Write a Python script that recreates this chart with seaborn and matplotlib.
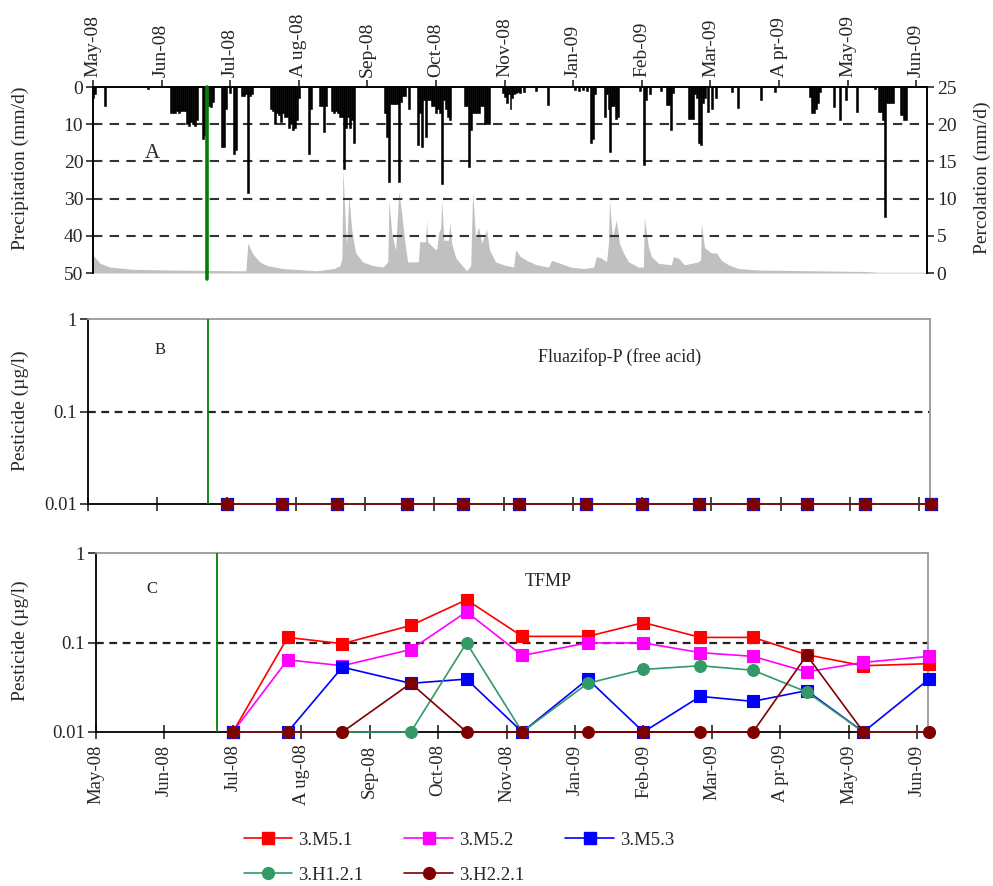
import numpy as np
import pandas as pd
import matplotlib
matplotlib.use("Agg")
import matplotlib.pyplot as plt
import seaborn as sns
from matplotlib.lines import Line2D

# ---------------- data ----------------
month_labels = ['May-08', 'Jun-08', 'Jul-08', 'A ug-08', 'Sep-08', 'Oct-08', 'Nov-08',
                'Jan-09', 'Feb-09', 'Mar-09', 'A pr-09', 'May-09', 'Jun-09']

# daily precipitation (day since 1 May 2008, mm/d)
rain_day = [0, 1, 6, 28,
            40, 41, 42, 43, 44, 45, 46, 47, 48, 49, 50, 51, 52, 53, 56, 57, 59, 60, 61,
            66, 67, 68, 70, 72, 73, 76, 77, 78, 79, 80, 81,
            91, 92, 93, 94, 95, 96, 97, 98, 99, 100, 101, 102, 103, 104, 105, 110, 111,
            116, 117, 118, 119, 122, 123, 124, 125, 126, 127, 128, 129, 130, 131, 132, 133,
            149, 150, 151, 152, 153, 154, 155, 156, 157, 158, 159, 161, 166,
            167, 168, 169, 170, 171, 172, 173, 174, 175, 176, 177, 178, 179, 180, 181, 182,
            190, 191, 192, 193, 194, 195, 196, 197, 198, 199, 200, 201, 202,
            209, 210, 211, 212, 213, 214, 215, 216, 217, 218, 220, 226, 232, 246, 248, 250, 252,
            254, 255, 256, 261, 262, 263, 264, 265, 266, 267, 268,
            279, 281, 282, 284, 290, 293, 294, 295, 296,
            304, 305, 306, 307, 308, 309, 310, 311, 312, 314, 316, 318, 326, 329, 341, 348,
            366, 367, 368, 369, 370, 371, 378, 381, 384, 390, 399,
            401, 402, 403, 404, 405, 406, 407, 408, 412, 413, 414, 415]
rain_mm = [3, 2, 5, 0.5,
           7, 7, 7, 6.5, 7, 6.5, 6.5, 6.5, 10, 10.5, 9.5, 10, 10.5, 9, 14, 13, 5, 5.5, 4,
           16, 16, 6, 1.7, 18, 17, 2.5, 2.5, 2, 28.5, 2.5, 2,
           6, 6.5, 10, 7, 7.5, 9.5, 7, 8, 8, 11, 10, 11.5, 11, 9, 3, 18, 6,
           5, 5, 12, 5, 6.5, 7, 6.5, 7, 8, 8, 22, 11, 8, 11, 9, 15,
           7, 13.5, 25.5, 4.5, 4.5, 4.5, 4.5, 25.5, 4, 2.5, 2.5, 6, 15.6,
           7, 16, 3.5, 13.5, 3.5, 3.5, 5, 5, 7, 6, 7, 26, 3.5, 6, 8, 9,
           5, 5, 21.5, 11.5, 7, 7, 7, 7, 5, 5, 10, 10, 10,
           1.7, 2.7, 4.4, 2, 6, 3, 2, 1.7, 1.3, 1.5, 1.3, 1, 4.8, 0.8, 1, 0.8, 1,
           15, 14, 2, 8, 2, 6, 17.5, 5, 5, 8.5, 8,
           1, 21, 3.5, 2, 1, 4.8, 4.8, 11.5, 1.7,
           8.5, 8.5, 8.5, 2, 3, 15, 15.6, 4.4, 3, 6.7, 6, 3, 1.3, 5.7, 3.5, 1.3,
           2.7, 7, 7, 6, 4.4, 1.3, 5.3, 9, 3.5, 6.7, 0.5,
           6.7, 6.7, 9, 35, 4.4, 4.4, 4.4, 4.4, 7.5, 7.5, 9, 9]

# percolation (day, mm/d)
perc_day = [0, 3.6, 8.7, 20, 39, 71, 78, 79, 81.5, 85, 88.7, 97, 114, 123, 126, 127, 127.5,
            129, 129.5, 130.5, 132, 134, 137.6, 142.7, 148, 150.4, 151, 152.4, 154.4, 156,
            157.5, 159, 160.5, 166, 166.7, 169.7, 170.2, 170.7, 173.3, 175.3, 176.4, 177.4,
            177.9, 179, 181.4, 182, 183, 185, 188, 190.6, 192.7, 193.7, 195.2, 196.7, 198.3,
            200.8, 202.3, 205.4, 209.5, 214.6, 215.6, 218.1, 221.2, 226.3, 232.4, 234, 238.5,
            243.6, 250.3, 255.4, 256.9, 259.4, 262, 263, 263.5, 265, 267, 268.6, 270.6, 273.2,
            278.3, 280.8, 281.3, 283.4, 284.9, 288.5, 295.1, 296.1, 298.7, 301.7, 305.3, 308.9,
            310, 310.4, 312, 315.5, 318, 320.6, 324.2, 329.3, 339.4, 394.5, 401, 425]
perc_mm = [2.4, 1.3, 0.8, 0.5, 0.4, 0.3, 0.3, 4.0, 2.6, 1.5, 1.0, 0.6, 0.3, 0.6, 1.0, 2.0, 14.0,
           5.0, 4.0, 10.5, 5.8, 2.7, 1.5, 1.0, 0.8, 1.5, 9.8, 5.4, 3.1, 10.9,
           8.0, 4.4, 1.5, 1.5, 4.2, 4.2, 7.1, 4.2, 3.5, 3.1, 5.4, 6.0,
           9.8, 4.4, 4.4, 6.9, 4.0, 2.1, 1.1, 0.3, 1.0, 10.9, 4.7, 6.2, 4.0,
           5.8, 3.1, 1.5, 1.1, 0.8, 3.1, 2.2, 1.7, 1.1, 0.8, 1.7, 1.3,
           0.8, 0.6, 0.8, 2.2, 2.0, 1.5, 4.0, 9.8, 4.8, 7.1, 4.0, 2.7, 1.5,
           0.8, 0.8, 7.4, 3.5, 2.2, 1.3, 1.1, 2.2, 2.0, 1.1, 1.3, 1.5,
           1.8, 6.7, 3.4, 2.7, 2.7, 1.7, 1.1, 0.6, 0.4, 0.2, 0.1, 0.1]

# sampling dates (day since 1 May 2008)
sample_day = [70, 98, 126, 161, 189.5, 218, 251.5, 280, 309, 336, 363.5, 392.5, 426]

series_names = ['3.M5.1', '3.M5.2', '3.M5.3', '3.H1.2.1', '3.H2.2.1']
fluazifop = {
    '3.M5.1':   [0.01] * 13,
    '3.M5.2':   [0.01] * 13,
    '3.M5.3':   [0.01] * 13,
    '3.H1.2.1': [0.01] * 13,
    '3.H2.2.1': [0.01] * 13,
}
tfmp = {
    '3.M5.1':   [0.01, 0.114, 0.097, 0.155, 0.30, 0.117, 0.117, 0.167, 0.114, 0.114, 0.073, 0.055, 0.058],
    '3.M5.2':   [0.01, 0.064, 0.055, 0.0835, 0.22, 0.0716, 0.099, 0.099, 0.077, 0.070, 0.047, 0.060, 0.070],
    '3.M5.3':   [0.01, 0.01, 0.053, 0.035, 0.039, 0.01, 0.039, 0.01, 0.025, 0.022, 0.029, 0.01, 0.039],
    '3.H1.2.1': [0.01, 0.01, 0.01, 0.01, 0.099, 0.01, 0.035, 0.050, 0.055, 0.049, 0.028, 0.01, 0.01],
    '3.H2.2.1': [0.01, 0.01, 0.01, 0.035, 0.01, 0.01, 0.01, 0.01, 0.01, 0.01, 0.072, 0.01, 0.01],
}
application_day = {'A': 58.4, 'B': 60.7, 'C': 62.0}

# ---------------- styles ----------------
colors = {'3.M5.1': '#FF0000', '3.M5.2': '#FF00FF', '3.M5.3': '#0000FF',
          '3.H1.2.1': '#339966', '3.H2.2.1': '#800000'}
markers = {'3.M5.1': 's', '3.M5.2': 's', '3.M5.3': 's', '3.H1.2.1': 'o', '3.H2.2.1': 'o'}

sns.set_style("ticks")
plt.rcParams['font.family'] = ['Liberation Serif', 'DejaVu Serif']

W, H = 993, 886
fig = plt.figure(figsize=(W / 100, H / 100), dpi=100)


def rect(l, r, t, b):
    return [l / W, 1 - b / H, (r - l) / W, (b - t) / H]


XMAX = 425.5
tick_days = np.arange(0, 421, 35)

# ---------------- panel A ----------------
axA = fig.add_axes(rect(93, 927, 87, 273))
axP = axA.twinx()
axP.fill_between(perc_day, perc_mm, 0, color='#c0c0c0', lw=0)
axP.set_ylim(0, 25)
axP.set_yticks(range(0, 26, 5))
axA.set_zorder(axP.get_zorder() + 1)
axA.patch.set_visible(False)

axA.bar(rain_day, rain_mm, width=1.0, color='black', edgecolor='black', linewidth=0.4, zorder=3)
for v in [10, 20, 30, 40]:
    axA.axhline(v, color='#333333', ls=(0, (4.5, 3.5)), lw=1.5, zorder=2)
axA.axvline(application_day['A'], ymin=-0.03, ymax=1, color='#008000', lw=2.6, zorder=4, clip_on=False)
axA.set_ylim(50, 0)
axA.set_xlim(0, XMAX)
axP.set_xlim(0, XMAX)
axA.set_yticks(range(0, 51, 10))
axA.xaxis.tick_top()
axA.set_xticks(tick_days)
axA.set_xticklabels(month_labels, rotation=90, fontsize=14)
axA.tick_params(axis='x', direction='out', length=5, width=1.2, pad=2, top=True, bottom=False)
axA.tick_params(axis='y', direction='out', length=5, width=1.2, labelsize=14, pad=2)
axP.tick_params(axis='y', direction='out', length=5, width=1.2, labelsize=14, pad=2)
for ax in (axA, axP):
    ax.spines['bottom'].set_visible(False)
    for s in ('top', 'left', 'right'):
        ax.spines[s].set_linewidth(1.2)
        ax.spines[s].set_color('black')
fig.text(152 / W, 1 - 153 / H, 'A', fontsize=15, ha='center', va='center')
fig.text(20 / W, 1 - 168 / H, 'Precipitation (mm/d)', rotation=90, fontsize=14, ha='center', va='center')
fig.text(982 / W, 1 - 178 / H, 'Percolation (mm/d)', rotation=90, fontsize=14, ha='center', va='center')


# ---------------- panels B & C ----------------
def conc_panel(ax, data, green_day, letter, letter_xy, title, title_xy, show_labels):
    ax.set_yscale('log')
    for name in series_names:
        df = pd.DataFrame({'day': sample_day, 'conc': data[name]})
        sns.lineplot(data=df, x='day', y='conc', ax=ax, color=colors[name], marker=markers[name],
                     markersize=8.5, markeredgecolor=colors[name], markeredgewidth=0.8,
                     linewidth=1.2, clip_on=False, zorder=5, sort=False, estimator=None)
    ax.axhline(0.1, color='#222222', ls=(0, (3.5, 2.5)), lw=1.6, zorder=2)
    ax.axvline(green_day, color='#008000', lw=1.3, zorder=3)
    ax.set_ylim(0.01, 1)
    ax.set_xlim(0, XMAX)
    ax.set_yticks([0.01, 0.1, 1])
    ax.set_yticklabels(['0.01', '0.1', '1'])
    ax.minorticks_off()
    ax.set_xticks(tick_days)
    if show_labels:
        ax.set_xticklabels(month_labels, rotation=90, fontsize=13.5)
    else:
        ax.set_xticklabels([])
    ax.tick_params(axis='x', direction='inout', length=10, width=1.2, pad=4)
    ax.tick_params(axis='y', direction='out', length=6, width=1.2, labelsize=13.5, pad=2)
    ax.set_xlabel('')
    ax.set_ylabel('')
    for s in ('left', 'bottom'):
        ax.spines[s].set_color('black')
        ax.spines[s].set_linewidth(1.3)
    for s in ('top', 'right'):
        ax.spines[s].set_color('#999999')
        ax.spines[s].set_linewidth(1.3)
    fig.text(letter_xy[0] / W, 1 - letter_xy[1] / H, letter, fontsize=12, ha='center', va='center')
    fig.text(title_xy[0] / W, 1 - title_xy[1] / H, title, fontsize=13, ha='center', va='center')


axB = fig.add_axes(rect(88, 930, 319, 504))
conc_panel(axB, fluazifop, application_day['B'], 'B', (160, 350), 'Fluazifop-P (free acid)', (620, 357), False)
fig.text(20 / W, 1 - 411 / H, 'Pesticide (µg/l)', rotation=90, fontsize=14, ha='center', va='center')

axC = fig.add_axes(rect(96, 928, 553, 732))
conc_panel(axC, tfmp, application_day['C'], 'C', (152, 589), 'TFMP', (548, 582), True)
fig.text(20 / W, 1 - 641 / H, 'Pesticide (µg/l)', rotation=90, fontsize=14, ha='center', va='center')

# ---------------- legend (row-wise order) ----------------
legend_order = ['3.M5.1', '3.H1.2.1', '3.M5.2', '3.H2.2.1', '3.M5.3']
handles = [Line2D([], [], color=colors[n], marker=markers[n], markersize=8.5, lw=1.2,
                  markeredgecolor=colors[n]) for n in legend_order]
leg = fig.legend(handles, legend_order, loc='upper left', bbox_to_anchor=(236 / W, 1 - 824 / H),
                 ncol=3, frameon=False, fontsize=13.5, handlelength=2.6, handletextpad=0.3,
                 columnspacing=2.2, labelspacing=0.95, borderaxespad=0)

fig.savefig('out.png', dpi=100)
